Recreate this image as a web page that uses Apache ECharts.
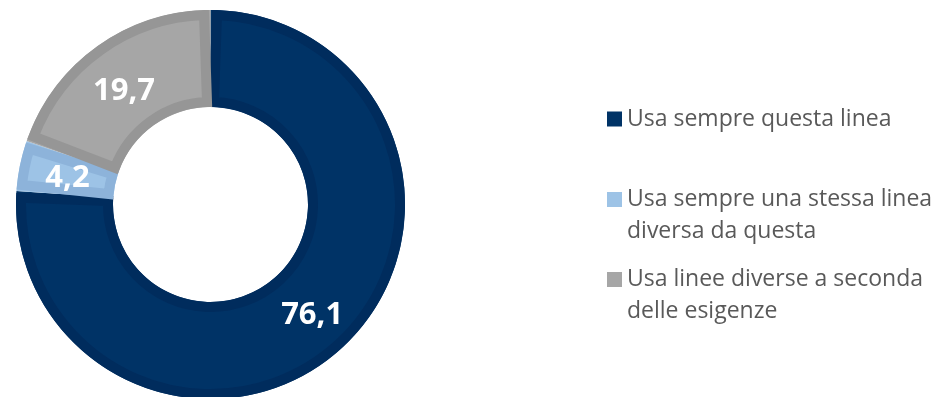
<!DOCTYPE html>
<html>
<head>
<meta charset="utf-8">
<script src="https://cdn.jsdelivr.net/npm/echarts@6/dist/echarts.min.js"></script>
<style>
  html, body { margin: 0; padding: 0; background: #ffffff; }
  #chart { width: 937px; height: 397px; }
</style>
</head>
<body>
<div id="chart"></div>
<script>
// Categories and shares (%)
const categories = [
  'Usa sempre questa linea',
  'Usa sempre una stessa linea\ndiversa da questa',
  'Usa linee diverse a seconda\ndelle esigenze'
];
const values = [76.1, 4.2, 19.7];

// Fill colours and slightly darker rim colours for each slice
const fillColors = ['#003366', '#9dc3e6', '#a6a6a6'];
const rimColors = ['#002c5d', '#8db3da', '#969696'];
// small per-slice label nudges (text padding: top, right, bottom, left)
const labelPads = [[4, 0, 0, 0], [7, 0, 0, 6], [16, 0, 0, 0]];

const fillData = categories.map((name, i) => ({
  name: name,
  value: values[i],
  itemStyle: { color: fillColors[i] }
}));
const rimData = categories.map((name, i) => ({
  name: name,
  value: values[i],
  itemStyle: { color: 'rgba(0,0,0,0)', borderColor: rimColors[i] }
}));

const labelFont = {
  color: '#ffffff',
  fontFamily: 'Open Sans',
  fontWeight: 'bold',
  fontSize: 31
};
const labelRich = {};
labelPads.forEach((pad, i) => {
  labelRich['v' + i] = Object.assign({ padding: pad }, labelFont);
});

const center = [210.5, 204.5];
const LH = 32;

function legendFor(name, iconCenterY) {
  const lines = name.split('\n').length;
  // a leading blank line keeps the marker level with the first text line
  const rows = lines > 1 ? lines + 1 : 1;
  return {
    show: true,
    left: 607,
    top: iconCenterY - rows * LH / 2,
    padding: 0,
    itemWidth: 15,
    itemHeight: 15,
    icon: 'rect',
    selectedMode: false,
    data: [name],
    formatter: n => (lines > 1 ? '\u00a0\n' + n : n),
    textStyle: {
      color: '#595959',
      fontFamily: 'Open Sans',
      fontSize: 23,
      lineHeight: LH
    }
  };
}

const chart = echarts.init(document.getElementById('chart'), null, { renderer: 'canvas' });
chart.setOption({
  backgroundColor: '#ffffff',
  animation: false,
  legend: [
    legendFor(categories[0], 119),
    legendFor(categories[1], 199.5),
    legendFor(categories[2], 279.5)
  ],
  series: [
    {
      type: 'pie',
      name: 'fill',
      z: 2,
      center: center,
      radius: [97.5, 194.5],
      startAngle: 90,
      clockwise: true,
      silent: true,
      label: { show: false },
      labelLine: { show: false },
      data: fillData
    },
    {
      type: 'pie',
      name: 'rim',
      z: 3,
      center: center,
      radius: [102.5, 189.5],
      startAngle: 90,
      clockwise: true,
      padAngle: 3.9,
      silent: true,
      itemStyle: { borderWidth: 10, borderJoin: 'miter' },
      emphasis: { disabled: true },
      label: Object.assign({
        show: true,
        position: 'inside',
        formatter: p => '{v' + p.dataIndex + '|' + String(p.value).replace('.', ',') + '}',
        rich: labelRich
      }, labelFont),
      labelLine: { show: false },
      data: rimData
    }
  ]
});
</script>
</body>
</html>
